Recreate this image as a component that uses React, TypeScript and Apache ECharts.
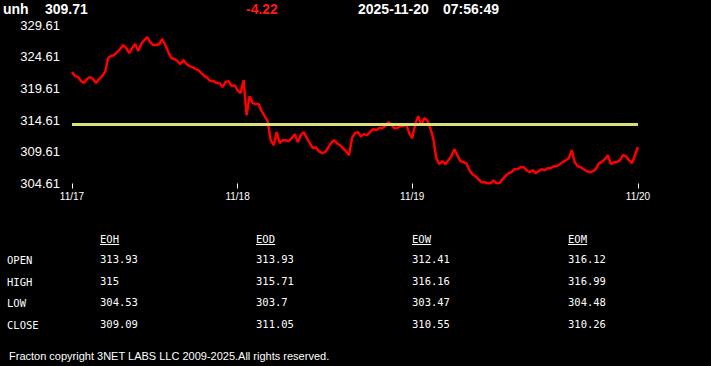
import React, { useEffect, useRef } from 'react';
import * as echarts from 'echarts';

// ---- data ----
const symbolName = 'unh';
const lastPrice = '309.71';
const priceChange = '-4.22';
const quoteDate = '2025-11-20';
const quoteTime = '07:56:49';

const prevClose = 313.93;

const dayLabels = ['11/17', '11/18', '11/19', '11/20'];
const dayStartIndex = [0, 55, 113, 188];

const yMin = 304.61;
const yMax = 329.61;
const yStep = 5;

const prices = [
  322.19, 321.55, 321.40, 320.76, 320.45, 321.08, 321.40, 321.08, 320.45, 321.08,
  321.55, 322.19, 324.40, 324.71, 324.87, 325.34, 325.82, 326.45, 325.98, 325.19,
  325.98, 326.61, 325.50, 326.61, 327.24, 327.71, 326.92, 326.45, 326.45, 326.61,
  327.40, 326.45, 325.34, 324.40, 324.24, 323.92, 323.45, 324.08, 323.45, 323.13,
  322.97, 322.66, 322.50, 322.03, 321.55, 321.24, 320.76, 320.76, 320.45, 320.45,
  319.82, 320.61, 320.76, 319.97, 320.13, 319.34, 318.87, 320.92, 315.39, 318.39,
  317.29, 317.13, 317.13, 316.02, 315.23, 314.44, 311.44, 310.65, 312.71, 310.97,
  311.44, 311.44, 311.28, 311.76, 312.39, 311.13, 312.23, 312.71, 311.76, 310.97,
  310.18, 310.34, 309.70, 309.39, 309.55, 310.18, 310.97, 311.44, 310.97, 310.65,
  310.18, 309.70, 309.07, 311.76, 312.55, 312.71, 312.07, 312.39, 312.23, 312.71,
  313.18, 313.02, 313.34, 313.34, 313.65, 314.29, 313.97, 313.34, 313.34, 313.65,
  313.65, 313.97, 312.55, 311.76, 313.97, 315.23, 313.81, 314.92, 314.60, 313.34,
  311.76, 308.60, 307.65, 308.13, 307.65, 308.28, 308.91, 310.02, 309.07, 308.13,
  307.97, 307.81, 306.70, 306.07, 305.76, 305.28, 304.81, 304.81, 304.65, 304.65,
  305.12, 304.65, 304.65, 305.28, 305.76, 306.23, 306.39, 306.86, 306.86, 307.18,
  307.18, 306.70, 306.39, 306.70, 306.23, 306.55, 306.86, 306.70, 307.02, 307.02,
  307.34, 307.34, 307.65, 307.97, 308.28, 308.60, 309.86, 307.97, 307.34, 307.18,
  306.86, 306.55, 306.39, 306.55, 306.86, 307.81, 307.97, 308.44, 309.07, 307.65,
  307.97, 307.97, 308.28, 309.07, 308.91, 308.28, 307.81, 309.07, 310.34,
];

const tableColumns = ['EOH', 'EOD', 'EOW', 'EOM'];
const tableRows = ['OPEN', 'HIGH', 'LOW', 'CLOSE'];
const eohValues = ['313.93', '315', '304.53', '309.09'];
const eodValues = ['313.93', '315.71', '303.7', '311.05'];
const eowValues = ['312.41', '316.16', '303.47', '310.55'];
const eomValues = ['316.12', '316.99', '304.48', '310.26'];

const footerText = 'Fracton copyright 3NET LABS LLC 2009-2025.All rights reserved.';

// ---- styles ----
const SANS = '"Liberation Sans", Arial, sans-serif';
const MONO = '"DejaVu Sans Mono", "Liberation Mono", monospace';

export default function App() {
  const ref = useRef<HTMLDivElement>(null);

  useEffect(() => {
    document.body.style.margin = '0';
    document.body.style.background = '#000';
    if (!ref.current) return;
    const chart = echarts.init(ref.current, null, { renderer: 'svg' });

    const categories = prices.map((_, i) => String(i));
    const labelAt = (idx: number) => {
      const k = dayStartIndex.indexOf(idx);
      return k >= 0 ? dayLabels[k] : '';
    };
    const isDayStart = (idx: number) => dayStartIndex.indexOf(idx) >= 0;

    const columnValues = [eohValues, eodValues, eowValues, eomValues];
    const colX = [100, 256, 412, 568];
    const rowY = [260, 281.5, 303, 324.5];
    const graphics: any[] = [];

    // header
    const headerItems = [
      { text: symbolName, x: 3, color: '#fff' },
      { text: lastPrice, x: 45, color: '#fff' },
      { text: priceChange, x: 246, color: '#ff1a1a' },
      { text: quoteDate, x: 358, color: '#fff' },
      { text: quoteTime, x: 443, color: '#fff' },
    ];
    headerItems.forEach((h) => {
      graphics.push({
        type: 'text', x: h.x, y: 9,
        style: { text: h.text, fill: h.color, font: `bold 14px ${SANS}`, verticalAlign: 'middle', align: 'left' },
      });
    });

    // table headers
    tableColumns.forEach((c, ci) => {
      graphics.push({
        type: 'text', x: colX[ci], y: 238.5,
        style: { text: c, fill: '#fff', font: `10.5px ${MONO}`, verticalAlign: 'middle', align: 'left' },
      });
      graphics.push({
        type: 'line',
        shape: { x1: colX[ci], y1: 244.5, x2: colX[ci] + c.length * 6.4, y2: 244.5 },
        style: { stroke: '#fff', lineWidth: 1 },
      });
    });
    tableRows.forEach((r, ri) => {
      graphics.push({
        type: 'text', x: 7, y: rowY[ri],
        style: { text: r, fill: '#fff', font: `10.5px ${MONO}`, verticalAlign: 'middle', align: 'left' },
      });
      columnValues.forEach((vals, ci) => {
        graphics.push({
          type: 'text', x: colX[ci], y: rowY[ri] - 1,
          style: { text: vals[ri], fill: '#fff', font: `10.5px ${MONO}`, verticalAlign: 'middle', align: 'left' },
        });
      });
    });

    // footer
    graphics.push({
      type: 'text', x: 9, y: 355.5,
      style: { text: footerText, fill: '#fff', font: `11px ${SANS}`, verticalAlign: 'middle', align: 'left' },
    });

    chart.setOption({
      animation: false,
      backgroundColor: '#000',
      grid: { left: 72, right: 73, top: 25, bottom: 182.5, containLabel: false },
      xAxis: {
        type: 'category',
        data: categories,
        boundaryGap: false,
        axisLine: { show: false },
        axisTick: {
          show: true,
          length: 5,
          interval: (idx: number) => isDayStart(idx),
          lineStyle: { color: '#fff', width: 1 },
        },
        axisLabel: {
          show: true,
          interval: (idx: number) => isDayStart(idx),
          formatter: (_v: string, idx: number) => labelAt(idx),
          color: '#fff',
          fontSize: 10,
          fontFamily: SANS,
          margin: 8,
        },
        splitLine: { show: false },
      },
      yAxis: {
        type: 'value',
        min: yMin,
        max: yMax,
        interval: yStep,
        axisLine: { show: false },
        axisTick: { show: false },
        splitLine: { show: false },
        axisLabel: {
          color: '#fff',
          fontSize: 13,
          fontFamily: SANS,
          margin: 12,
          formatter: (v: number) => v.toFixed(2),
        },
      },
      series: [
        {
          type: 'line',
          data: prices,
          showSymbol: false,
          symbol: 'none',
          lineStyle: { color: '#ff0000', width: 2.5 },
          markLine: {
            silent: true,
            symbol: 'none',
            label: { show: false },
            data: [{ yAxis: prevClose }],
            lineStyle: { color: '#d9e27a', width: 3, type: 'solid' },
          },
          z: 3,
        },
      ],
      graphic: graphics,
    });

    return () => chart.dispose();
  }, []);

  return (
    <div
      ref={ref}
      style={{ position: 'fixed', left: 0, top: 0, width: 711, height: 366, background: '#000' }}
    />
  );
}
